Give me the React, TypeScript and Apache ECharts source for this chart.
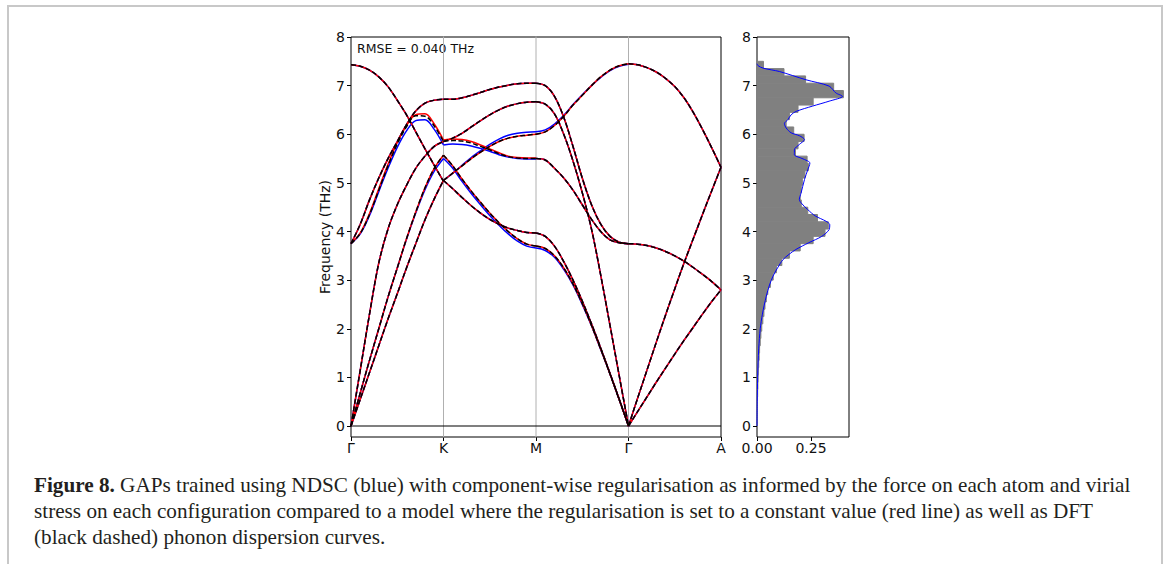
import React, { useEffect, useRef } from 'react';
import * as echarts from 'echarts';

// ---------- axis / tick data ----------
const pathLabels = ['Γ', 'K', 'M', 'Γ', 'A'];
const segmentKeys = ['GK', 'KM', 'MG', 'GA'];
const segmentStarts = [0, 1, 2, 3];
const qSteps = [0, 0.1, 0.2, 0.3, 0.4, 0.5, 0.6, 0.7, 0.8, 0.9, 1.0];
const guidePositions = [1, 2, 3];
const yTicks = [0, 1, 2, 3, 4, 5, 6, 7, 8];
const dosTickStep = 0.25;

// ---------- DFT (reference) bands, per path segment ----------
// Γ–K
const dftGK_LO = [7.43, 7.40, 7.32, 7.18, 6.98, 6.70, 6.40, 6.05, 5.70, 5.36, 5.03];
const dftGK_Ea = [3.75, 4.15, 4.65, 5.10, 5.50, 5.85, 6.20, 6.48, 6.64, 6.70, 6.72];
const dftGK_Eb = [3.75, 3.96, 4.35, 4.85, 5.35, 5.80, 6.15, 6.38, 6.37, 6.17, 5.85];
const dftGK_A1 = [0, 1.15, 2.30, 3.35, 4.05, 4.55, 4.95, 5.30, 5.55, 5.75, 5.85];
const dftGK_A2 = [0, 0.68, 1.35, 2.00, 2.65, 3.25, 3.85, 4.40, 4.90, 5.30, 5.57];
const dftGK_A3 = [0, 0.55, 1.10, 1.65, 2.20, 2.72, 3.25, 3.75, 4.24, 4.67, 5.05];
// K–M
const dftKM_U = [6.72, 6.72, 6.75, 6.80, 6.86, 6.92, 6.97, 7.01, 7.04, 7.05, 7.05];
const dftKM_B = [5.85, 5.92, 6.02, 6.15, 6.28, 6.40, 6.50, 6.58, 6.63, 6.66, 6.67];
const dftKM_C = [5.85, 5.87, 5.86, 5.82, 5.75, 5.68, 5.60, 5.54, 5.51, 5.50, 5.50];
const dftKM_D = [5.05, 5.20, 5.35, 5.50, 5.63, 5.75, 5.85, 5.92, 5.96, 5.98, 6.00];
const dftKM_E = [5.05, 4.88, 4.70, 4.53, 4.38, 4.25, 4.15, 4.07, 4.02, 3.98, 3.97];
const dftKM_F = [5.57, 5.35, 5.08, 4.83, 4.60, 4.38, 4.18, 4.00, 3.85, 3.74, 3.70];
// M–Γ
const dftMG_P = [7.05, 7.00, 6.78, 6.35, 5.75, 5.10, 4.55, 4.15, 3.90, 3.78, 3.75];
const dftMG_Q = [6.67, 6.62, 6.42, 6.00, 5.45, 4.80, 4.05, 3.10, 2.07, 1.03, 0];
const dftMG_R = [6.00, 6.05, 6.18, 6.37, 6.60, 6.80, 7.00, 7.18, 7.32, 7.41, 7.45];
const dftMG_S = [5.50, 5.47, 5.30, 5.10, 4.85, 4.55, 4.25, 4.00, 3.83, 3.77, 3.75];
const dftMG_T1 = [3.97, 3.90, 3.70, 3.38, 3.00, 2.57, 2.10, 1.60, 1.08, 0.55, 0];
const dftMG_T2 = [3.70, 3.65, 3.50, 3.25, 2.92, 2.52, 2.07, 1.58, 1.07, 0.54, 0];
// Γ–A
const dftGA_LO = [7.45, 7.43, 7.37, 7.28, 7.15, 6.98, 6.75, 6.45, 6.10, 5.72, 5.32];
const dftGA_LA = [0, 0.58, 1.15, 1.72, 2.28, 2.82, 3.35, 3.85, 4.35, 4.84, 5.32];
const dftGA_TA = [0, 0.30, 0.60, 0.90, 1.19, 1.48, 1.76, 2.03, 2.30, 2.56, 2.80];
const dftGA_TO = [3.75, 3.74, 3.71, 3.66, 3.59, 3.50, 3.39, 3.26, 3.12, 2.97, 2.80];

// ---------- model deviations (where visible) ----------
const blueGK_Eb = [3.75, 3.95, 4.33, 4.82, 5.30, 5.73, 6.07, 6.28, 6.30, 6.10, 5.78];
const blueGK_A2 = [0, 0.68, 1.35, 2.00, 2.65, 3.25, 3.84, 4.38, 4.86, 5.24, 5.50];
const blueKM_C = [5.78, 5.80, 5.79, 5.76, 5.71, 5.65, 5.58, 5.53, 5.50, 5.49, 5.49];
const blueKM_D = [5.05, 5.20, 5.36, 5.52, 5.66, 5.79, 5.90, 5.98, 6.02, 6.04, 6.05];
const blueKM_F = [5.50, 5.30, 5.03, 4.78, 4.55, 4.33, 4.13, 3.95, 3.80, 3.70, 3.66];
const blueMG_R = [6.05, 6.09, 6.21, 6.39, 6.61, 6.81, 7.00, 7.17, 7.31, 7.40, 7.44];
const blueMG_T2 = [3.66, 3.61, 3.47, 3.22, 2.90, 2.50, 2.06, 1.57, 1.07, 0.54, 0];
const redGK_Eb = [3.75, 3.97, 4.37, 4.88, 5.38, 5.83, 6.18, 6.40, 6.42, 6.21, 5.88];
const redKM_C = [5.88, 5.90, 5.89, 5.85, 5.78, 5.70, 5.62, 5.55, 5.52, 5.51, 5.51];

// ---------- DOS ----------
const dosBinSize = 0.15;
const dosHist = [
  0.0002, 0.0005, 0.001, 0.002, 0.003, 0.004, 0.005, 0.006, 0.008, 0.010,
  0.012, 0.015, 0.018, 0.022, 0.027, 0.032, 0.037, 0.043, 0.050, 0.062,
  0.075, 0.090, 0.115, 0.150, 0.200, 0.260, 0.315, 0.330, 0.280, 0.235,
  0.205, 0.200, 0.205, 0.210, 0.222, 0.238, 0.232, 0.178, 0.190, 0.218,
  0.170, 0.135, 0.150, 0.190, 0.260, 0.400, 0.355, 0.225, 0.125, 0.030,
];
const dosFreq = [0, 0.5, 1.0, 1.3, 1.6, 2.0, 2.3, 2.67, 2.9, 3.08, 3.25, 3.42, 3.53, 3.63, 3.77, 3.9, 4.04, 4.14, 4.21, 4.32, 4.45, 4.59, 4.66, 4.79, 5.07, 5.27, 5.41, 5.45, 5.51, 5.58, 5.68, 5.79, 5.89, 5.97, 6.03, 6.13, 6.22, 6.3, 6.4, 6.47, 6.58, 6.68, 6.78, 6.85, 6.99, 7.12, 7.29, 7.36, 7.41, 7.45];
const dosVal = [0, 0.001, 0.003, 0.005, 0.008, 0.015, 0.025, 0.043, 0.058, 0.074, 0.095, 0.12, 0.148, 0.18, 0.24, 0.30, 0.334, 0.337, 0.32, 0.27, 0.235, 0.204, 0.196, 0.204, 0.22, 0.235, 0.245, 0.235, 0.204, 0.173, 0.173, 0.196, 0.22, 0.196, 0.158, 0.135, 0.127, 0.143, 0.158, 0.181, 0.258, 0.334, 0.396, 0.365, 0.334, 0.227, 0.104, 0.028, 0.005, 0];

const rmseText = 'RMSE = 0.040 THz';
const yAxisName = 'Frequency (THz)';
const captionLines = [
  '{b|Figure 8.} GAPs trained using NDSC (blue) with component-wise regularisation as informed by the force on each atom and virial',
  'stress on each configuration compared to a model where the regularisation is set to a constant value (red line) as well as DFT',
  '(black dashed) phonon dispersion curves.',
];

const dftBands: Record<string, number[][]> = {
  GK: [dftGK_LO, dftGK_Ea, dftGK_Eb, dftGK_A1, dftGK_A2, dftGK_A3],
  KM: [dftKM_U, dftKM_B, dftKM_C, dftKM_D, dftKM_E, dftKM_F],
  MG: [dftMG_P, dftMG_Q, dftMG_R, dftMG_S, dftMG_T1, dftMG_T2],
  GA: [dftGA_LO, dftGA_LA, dftGA_TA, dftGA_TO],
};
const blueOver: Record<string, number[]> = {
  'GK:2': blueGK_Eb, 'GK:4': blueGK_A2, 'KM:2': blueKM_C, 'KM:3': blueKM_D,
  'KM:5': blueKM_F, 'MG:2': blueMG_R, 'MG:5': blueMG_T2,
};
const redOver: Record<string, number[]> = { 'GK:2': redGK_Eb, 'KM:2': redKM_C };

const Y_MIN = -0.226;
const Y_MAX = 8;
const FONT = 'DejaVu Sans';
const CAPTION_FONT = 'Liberation Serif';
const CAPTION_SIZE = 21.2;

export default function App() {
  const ref = useRef<HTMLDivElement>(null);
  useEffect(() => {
    if (!ref.current) return;
    const chart = echarts.init(ref.current, undefined, { renderer: 'svg' });

    const models = [
      { color: '#0000ff', type: 'solid' as any, over: blueOver },
      { color: '#ff0000', type: 'solid' as any, over: redOver },
      { color: '#000000', type: [5, 2.5] as any, over: {} as Record<string, number[]> },
    ];

    const series: any[] = [];
    guidePositions.forEach((g) => {
      series.push({
        type: 'line', xAxisIndex: 0, yAxisIndex: 0, silent: true, symbol: 'none', z: 1,
        data: [[g, Y_MIN - 1], [g, Y_MAX + 1]],
        lineStyle: { color: '#b0b0b0', width: 1 },
      });
    });
    series.push({
      type: 'line', xAxisIndex: 0, yAxisIndex: 0, silent: true, symbol: 'none', z: 1,
      data: [[0, 0], [4, 0]],
      lineStyle: { color: '#000', width: 1.2 },
    });

    models.forEach((m, mi) => {
      segmentKeys.forEach((key, s) => {
        dftBands[key].forEach((band, b) => {
          const vals = m.over[`${key}:${b}`] ?? band;
          series.push({
            type: 'line', xAxisIndex: 0, yAxisIndex: 0, silent: true,
            symbol: 'none', showSymbol: false, smooth: 0.35, z: 3 + mi,
            data: qSteps.map((q, i) => [segmentStarts[s] + q, vals[i]]),
            lineStyle: { color: m.color, width: 1.5, type: m.type },
          });
        });
      });
    });

    series.push({
      type: 'custom', xAxisIndex: 1, yAxisIndex: 1, silent: true, z: 2,
      data: dosHist.map((d, i) => [i * dosBinSize, (i + 1) * dosBinSize, d]),
      encode: { x: 2, y: [0, 1] },
      renderItem: (_p: any, api: any) => {
        const lo = api.value(0);
        const hi = api.value(1);
        const d = api.value(2);
        const a = api.coord([0, hi]);
        const b = api.coord([d, lo]);
        return {
          type: 'rect',
          shape: { x: a[0], y: a[1], width: b[0] - a[0], height: b[1] - a[1] },
          style: { fill: '#808080', stroke: '#808080', lineWidth: 1 },
        };
      },
    });
    series.push({
      type: 'line', xAxisIndex: 1, yAxisIndex: 1, silent: true, symbol: 'none', z: 4,
      smooth: 0.3,
      data: dosFreq.map((f, i) => [dosVal[i], f]),
      lineStyle: { color: '#0000ff', width: 1 },
    });

    const axisText = { color: '#111', fontFamily: FONT, fontSize: 14 };

    chart.setOption({
      animation: false,
      backgroundColor: '#ffffff',
      grid: [
        { left: 351, top: 37, width: 370, height: 400, show: true, borderColor: '#000', borderWidth: 1, backgroundColor: 'transparent' },
        { left: 757, top: 37, width: 92, height: 400, show: true, borderColor: '#000', borderWidth: 1, backgroundColor: 'transparent' },
      ],
      xAxis: [
        {
          type: 'value', gridIndex: 0, min: 0, max: 4, interval: 1, position: 'bottom',
          axisLine: { show: false, onZero: false }, splitLine: { show: false },
          axisTick: { show: true, length: 4, lineStyle: { color: '#000' } },
          axisLabel: { ...axisText, margin: 4, formatter: (v: number) => pathLabels[Math.round(v)] ?? '' },
        },
        {
          type: 'value', gridIndex: 1, min: 0, max: 0.426, interval: dosTickStep, position: 'bottom',
          axisLine: { show: false, onZero: false }, splitLine: { show: false },
          axisTick: { show: true, length: 4, lineStyle: { color: '#000' } },
          axisLabel: {
            ...axisText, margin: 4, showMaxLabel: false,
            formatter: (v: number) => (Math.abs(v / dosTickStep - Math.round(v / dosTickStep)) < 1e-6 ? v.toFixed(2) : ''),
          },
        },
      ],
      yAxis: [
        {
          type: 'value', gridIndex: 0, min: Y_MIN, max: Y_MAX,
          axisLine: { show: false, onZero: false }, splitLine: { show: false },
          axisTick: { show: true, length: 4, customValues: yTicks, lineStyle: { color: '#000' } },
          axisLabel: { ...axisText, margin: 6, customValues: yTicks },
          name: yAxisName, nameLocation: 'middle', nameGap: 17, nameRotate: 90,
          nameTextStyle: { color: '#111', fontFamily: FONT, fontSize: 14 },
        },
        {
          type: 'value', gridIndex: 1, min: Y_MIN, max: Y_MAX,
          axisLine: { show: false, onZero: false }, splitLine: { show: false },
          axisTick: { show: true, length: 4, customValues: yTicks, lineStyle: { color: '#000' } },
          axisLabel: { ...axisText, margin: 6, customValues: yTicks },
        },
      ],
      graphic: [
        {
          type: 'polyline', silent: true,
          shape: { points: [[8, 600], [8, 6], [1162, 6], [1162, 600]] },
          style: { stroke: '#c8c8c8', lineWidth: 2, fill: 'none' },
        },
        {
          type: 'text', x: 357, y: 48, silent: true,
          style: { text: rmseText, fill: '#111', fontFamily: FONT, fontSize: 12.5, verticalAlign: 'middle' },
        },
        ...captionLines.map((line, i) => ({
          type: 'text', x: 34, y: 485 + i * 26, silent: true,
          style: {
            text: line, fill: '#231f20', fontFamily: CAPTION_FONT, fontSize: CAPTION_SIZE,
            verticalAlign: 'middle',
            rich: { b: { fontWeight: 'bold', fontFamily: CAPTION_FONT, fontSize: CAPTION_SIZE, fill: '#231f20' } },
          },
        })),
      ],
      series,
    });
    return () => chart.dispose();
  }, []);
  return (
    <div
      ref={ref}
      style={{ position: 'fixed', left: 0, top: 0, width: 1167, height: 564, background: '#fff' }}
    />
  );
}
